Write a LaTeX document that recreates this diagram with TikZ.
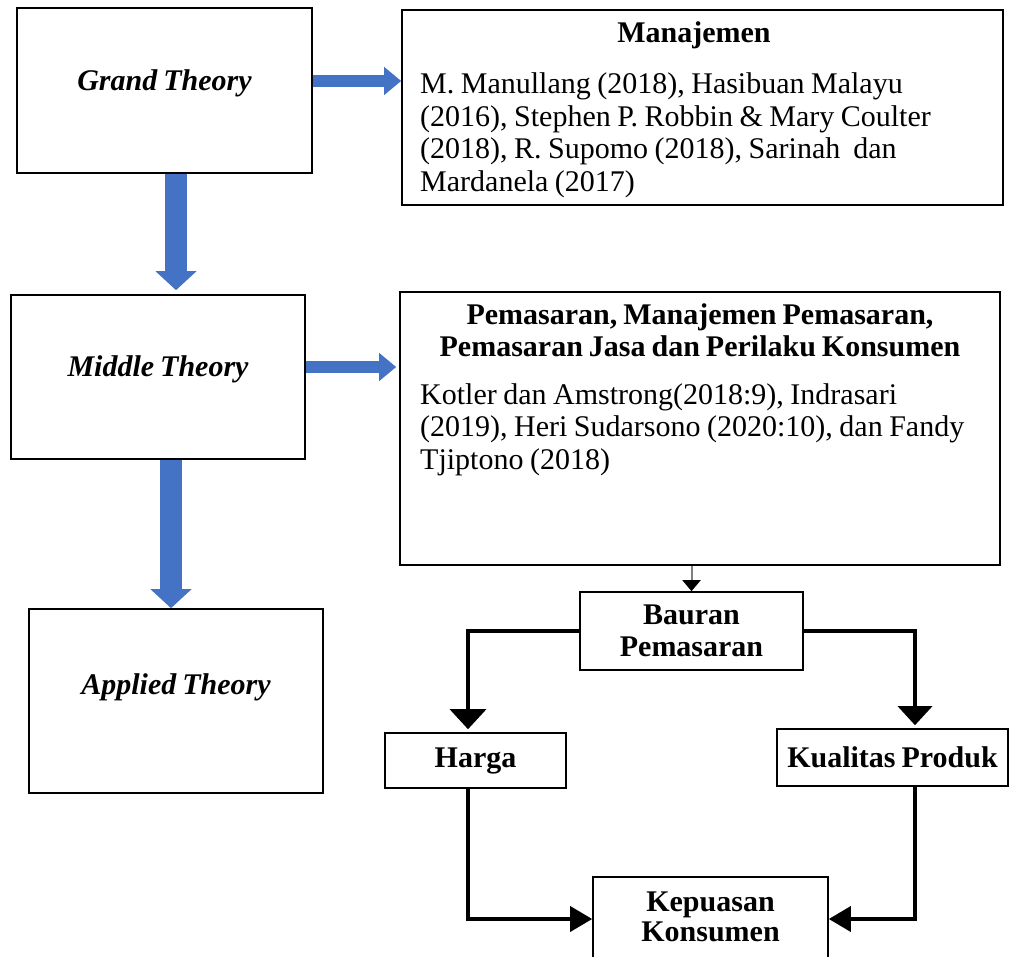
\documentclass[tikz,border=0pt]{standalone}
\usepackage{fontspec}
\setmainfont[WordSpace=0.8]{Liberation Serif}
\usetikzlibrary{arrows.meta}
\definecolor{theoryblue}{RGB}{68,114,196}
\definecolor{linkgrey}{RGB}{128,128,128}

\begin{document}
\begin{tikzpicture}[x=1pt, y=-1pt, font=\fontsize{30}{32.5}\selectfont]

	\tikzstyle{box}=[rectangle, draw=black, line width=1.6pt, inner sep=0pt]
	\tikzstyle{theory}=[box, minimum width=295pt, font=\fontsize{30}{32.5}\selectfont\bfseries\itshape, text height=20pt]
	\tikzstyle{var}=[box, font=\fontsize{30}{32}\selectfont\bfseries, align=center]
	\tikzstyle{head}=[inner sep=0pt, font=\fontsize{30}{32}\selectfont\bfseries, text width=590pt, execute at begin node={\centering\spaceskip=6pt\relax}, anchor=base]
	\tikzstyle{refs}=[inner sep=0pt, text width=580pt, execute at begin node={\raggedright\spaceskip=6.5pt\relax}, anchor=base west]
	\tikzstyle{bigarrow}=[draw=theoryblue, line width=22pt, -{Triangle[width=40pt, length=19pt]}]
	\tikzstyle{sidearrow}=[draw=theoryblue, line width=12pt, -{Triangle[width=27pt, length=17pt]}]
	\tikzstyle{flow}=[draw=black, line width=3.5pt, -{Triangle[width=36pt, length=20pt]}]

	\useasboundingbox (0,0) rectangle (1011,957);

	% theory levels
	\node at (164.5,90.5) (grand) [theory, minimum height=165pt, text depth=19pt] {Grand Theory};
	\node at (158,377) (middle) [theory, minimum width=294pt, minimum height=164pt, text depth=22pt] {Middle Theory};
	\node at (176,701) (applied) [theory, minimum width=294pt, minimum height=184pt, text depth=34pt] {Applied Theory};

	% reference boxes
	\node at (702.5,107.5) (manaj) [box, minimum width=601pt, minimum height=195pt] {};
	\node at (694,43) (manajhead) [head] {Manajemen};
	\node at (420,94) (manajrefs) [refs] {M. Manullang (2018), Hasibuan Malayu\\
		(2016), Stephen P. Robbin \& Mary Coulter\\
		(2018), R. Supomo (2018), Sarinah\ \ dan\\
		Mardanela (2017)};

	\node at (700,428.5) (pemas) [box, minimum width=600pt, minimum height=273pt] {};
	\node at (700,324) (pemashead) [head] {Pemasaran, Manajemen Pemasaran,\\
		Pemasaran Jasa dan Perilaku Konsumen};
	\node at (420,404) (pemasrefs) [refs] {Kotler dan Amstrong(2018:9), Indrasari\\
		(2019), Heri Sudarsono (2020:10), dan Fandy\\
		Tjiptono (2018)};

	% variables
	\node at (691.5,631) (bauran) [var, minimum width=223pt, minimum height=78pt] {Bauran\\ Pemasaran};
	\node at (475.5,760.5) (harga) [var, minimum width=181pt, minimum height=55pt] {Harga};
	\node at (892.5,757.5) (kualitas) [var, minimum width=231pt, minimum height=57pt] {Kualitas Produk};
	\node at (710.5,932) (kepuasan) [var, minimum width=235pt, minimum height=110pt] {};
	\node at (710.5,917) (kepuasantext) [font=\fontsize{30}{30}\selectfont\bfseries, align=center] {Kepuasan\\ Konsumen};

	% blue arrows
	\coordinate (gright) at ([yshift=9.5pt]grand.east);
	\coordinate (gdown) at ([xshift=11.5pt]grand.south);
	\coordinate (mright) at ([yshift=10pt]middle.east);
	\coordinate (mdown) at ([xshift=13pt]middle.south);
	\draw[sidearrow] (gright) -- (gright -| manaj.west);
	\draw[sidearrow, shorten >=3pt] (mright) -- (mright -| pemas.west);
	\draw[bigarrow, shorten >=4pt] (gdown) -- (gdown |- middle.north);
	\draw[bigarrow] (mdown) -- (mdown |- applied.north);

	% black connectors
	\draw[draw=linkgrey, line width=2pt, -{Triangle[width=18pt, length=11pt, color=black]}] (pemas.south -| bauran.north) -- (bauran.north);
	\draw[flow, shorten >=3pt] (bauran.west) -| ([xshift=-7.5pt]harga.north);
	\draw[flow, shorten >=3pt, -{Triangle[width=34pt, length=19pt]}] (bauran.east) -| ([xshift=22.5pt]kualitas.north);
	\draw[flow, -{Triangle[width=25pt, length=22pt]}] ([xshift=-7.5pt]harga.south) |- ([yshift=13pt]kepuasan.west);
	\draw[flow, -{Triangle[width=25pt, length=22pt]}] ([xshift=22.5pt]kualitas.south) |- ([yshift=13pt]kepuasan.east);
\end{tikzpicture}
\end{document}
